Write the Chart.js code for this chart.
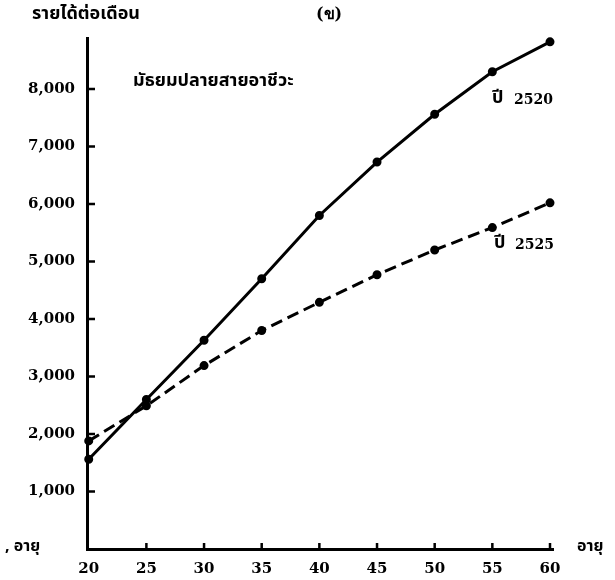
<!DOCTYPE html>
<html>
<head>
<meta charset="utf-8">
<script src="https://cdn.jsdelivr.net/npm/chart.js@4/dist/chart.umd.min.js"></script>
<style>
  html, body { margin: 0; padding: 0; background: #fff; }
  #wrap { width: 615px; height: 580px; }
</style>
</head>
<body>
<div id="wrap"><canvas id="c" width="615" height="580"></canvas></div>
<script>
// Age groups (years)
const ages = [20, 25, 30, 35, 40, 45, 50, 55, 60];
// Monthly income, upper-secondary vocational graduates
const income2520 = [1560, 2600, 3630, 4700, 5800, 6730, 7560, 8300, 8820];
const income2525 = [1880, 2490, 3190, 3800, 4290, 4770, 5200, 5590, 6020];
// Axis tick values
const xTickValues = [20, 25, 30, 35, 40, 45, 50, 55, 60];
const yTickValues = [1000, 2000, 3000, 4000, 5000, 6000, 7000, 8000];

const thaiFont = '"Noto Sans Thai", "Noto Serif Thai", "Loma", "Garuda", "Tlwg Typo", sans-serif';
const numFont = '"DejaVu Serif", "Liberation Serif", serif';

// Inward tick marks plus the free-standing text
const annotations = {
  id: 'annotations',
  afterDraw(chart) {
    const { ctx, scales } = chart;
    const xs = scales.x, ys = scales.y;
    const area = chart.chartArea;
    ctx.save();
    ctx.strokeStyle = '#000';
    ctx.lineWidth = 2.5;
    ctx.beginPath();
    yTickValues.forEach(v => {
      const py = ys.getPixelForValue(v);
      ctx.moveTo(area.left, py);
      ctx.lineTo(area.left + 8, py);
    });
    xTickValues.slice(1).forEach(v => {
      const px = xs.getPixelForValue(v);
      ctx.moveTo(px, area.bottom);
      ctx.lineTo(px, area.bottom - 6);
    });
    ctx.stroke();

    ctx.fillStyle = '#000';
    ctx.textBaseline = 'middle';
    ctx.textAlign = 'left';
    ctx.font = 'bold 18px ' + thaiFont;
    ctx.fillText('รายได้ต่อเดือน', 32, 15);
    ctx.fillText('มัธยมปลายสายอาชีวะ', 133, 82);
    ctx.fillText('ปี', 492, 99);
    ctx.fillText('ปี', 494, 244);
    ctx.font = 'bold 16px ' + thaiFont;
    ctx.fillText('อายุ', 577, 548);
    ctx.fillText(', อายุ', 5, 548);
    ctx.font = 'bold 16px ' + numFont;
    ctx.fillText('(ข)', 316, 15);
    ctx.font = 'bold 14px ' + numFont;
    ctx.fillText('2520', 514, 100);
    ctx.fillText('2525', 515, 245);
    ctx.restore();
  }
};

new Chart(document.getElementById('c'), {
  type: 'line',
  data: {
    datasets: [
      {
        label: 'ปี 2520',
        data: ages.map((a, i) => ({ x: a, y: income2520[i] })),
        borderColor: '#000',
        backgroundColor: '#000',
        borderWidth: 3,
        pointRadius: 3,
        pointHoverRadius: 3,
        tension: 0,
        clip: false
      },
      {
        label: 'ปี 2525',
        data: ages.map((a, i) => ({ x: a, y: income2525[i] })),
        borderColor: '#000',
        backgroundColor: '#000',
        borderWidth: 3,
        borderDash: [12, 6],
        pointRadius: 3,
        pointHoverRadius: 3,
        tension: 0,
        clip: false
      }
    ]
  },
  options: {
    responsive: false,
    animation: false,
    devicePixelRatio: 1,
    layout: { padding: { top: 38, right: 62, left: 0, bottom: 0 } },
    plugins: { legend: { display: false }, tooltip: { enabled: false } },
    scales: {
      x: {
        type: 'linear',
        min: 19.85,
        max: 60.26,
        afterBuildTicks: s => { s.ticks = xTickValues.map(v => ({ value: v })); },
        afterFit: s => { s.height = 31; },
        grid: { display: true, drawOnChartArea: false, drawTicks: false },
        border: { display: true, color: '#000', width: 3 },
        ticks: {
          color: '#000',
          padding: 11,
          maxRotation: 0,
          autoSkip: false,
          font: { family: numFont, size: 15, weight: 'bold' }
        }
      },
      y: {
        type: 'linear',
        min: 0,
        max: 8887,
        afterBuildTicks: s => { s.ticks = yTickValues.map(v => ({ value: v })); },
        afterFit: s => { s.width = 87; },
        grid: { display: true, drawOnChartArea: false, drawTicks: false },
        border: { display: true, color: '#000', width: 3 },
        ticks: {
          color: '#000',
          padding: 12,
          autoSkip: false,
          font: { family: numFont, size: 15, weight: 'bold' },
          callback: v => v.toLocaleString('en-US')
        }
      }
    }
  },
  plugins: [annotations]
});
</script>
</body>
</html>
